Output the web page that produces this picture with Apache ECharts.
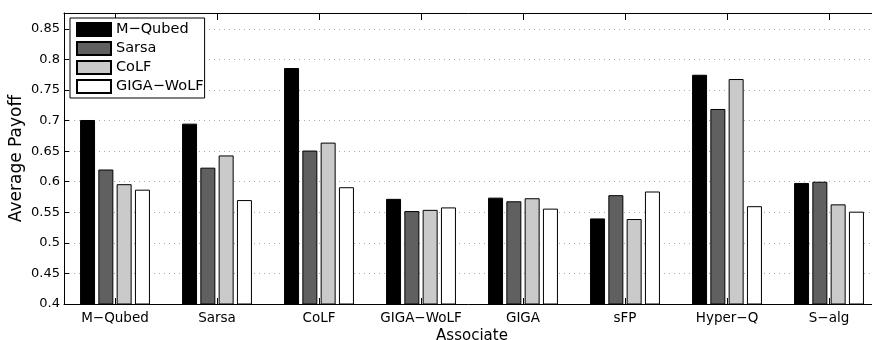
<!DOCTYPE html>
<html>
<head>
<meta charset="utf-8">
<script src="https://cdn.jsdelivr.net/npm/echarts@6/dist/echarts.min.js"></script>
<style>
  html, body { margin: 0; padding: 0; background: #fff; }
  #chart { width: 872px; height: 340px; }
</style>
</head>
<body>
<div id="chart"></div>
<script>
// Average payoff of each learner against each associate
const associates = ['M\u2212Qubed', 'Sarsa', 'CoLF', 'GIGA\u2212WoLF', 'GIGA', 'sFP', 'Hyper\u2212Q', 'S\u2212alg'];
const learners = ['M\u2212Qubed', 'Sarsa', 'CoLF', 'GIGA\u2212WoLF'];
const mQubed   = [0.701, 0.695, 0.786, 0.572, 0.574, 0.540, 0.775, 0.598];
const sarsa    = [0.620, 0.623, 0.651, 0.552, 0.568, 0.578, 0.719, 0.600];
const colf     = [0.596, 0.643, 0.664, 0.554, 0.573, 0.539, 0.768, 0.563];
const gigaWolf = [0.587, 0.570, 0.591, 0.558, 0.556, 0.584, 0.560, 0.551];

const seriesValues = [mQubed, sarsa, colf, gigaWolf];
const fills = ['#000000', '#606060', '#cacaca', '#ffffff'];

const FONT = '"DejaVu Sans", Verdana, sans-serif';

const chart = echarts.init(document.getElementById('chart'), null, { renderer: 'canvas' });

chart.setOption({
  animation: false,
  backgroundColor: '#ffffff',
  // the plot box runs slightly past the right edge of the canvas
  grid: { left: 64, top: 13, right: -8, bottom: 36, outerBoundsMode: 'none', containLabel: false },
  legend: {
    data: learners,
    orient: 'vertical',
    left: 70,
    top: 18,
    padding: [4, 1, 4, 6],
    itemWidth: 34,
    itemHeight: 13,
    itemGap: 4,
    icon: 'rect',
    backgroundColor: '#ffffff',
    borderColor: '#000000',
    borderWidth: 1,
    textStyle: { fontFamily: FONT, fontSize: 14.5, color: '#000', lineHeight: 13 }
  },
  xAxis: [
    {
      type: 'category',
      data: associates,
      position: 'bottom',
      name: 'Associate',
      nameLocation: 'middle',
      nameGap: 25,
      nameMoveOverlap: false,
      nameTextStyle: { fontFamily: FONT, fontSize: 15, color: '#000' },
      axisLine: { lineStyle: { color: '#000', width: 1 } },
      axisTick: { show: true, inside: true, length: 6, alignWithLabel: true, lineStyle: { color: '#000' } },
      axisLabel: { interval: 0, fontFamily: FONT, fontSize: 13.5, color: '#000', margin: 7 },
      splitLine: { show: false }
    },
    {
      type: 'category',
      data: associates,
      position: 'top',
      axisLine: { lineStyle: { color: '#000', width: 1 } },
      axisTick: { show: true, inside: true, length: 7, alignWithLabel: true, interval: 0, lineStyle: { color: '#000' } },
      axisLabel: { show: false },
      splitLine: { show: false }
    }
  ],
  yAxis: {
    type: 'value',
    min: 0.4,
    max: 0.876,
    interval: 0.05,
    name: 'Average Payoff',
    nameLocation: 'middle',
    nameGap: 39,
    nameMoveOverlap: false,
    nameTextStyle: { fontFamily: FONT, fontSize: 17, color: '#000' },
    axisLine: { show: true, lineStyle: { color: '#000', width: 1 } },
    axisTick: { show: true, inside: true, length: 5, lineStyle: { color: '#000' } },
    axisLabel: {
      fontFamily: FONT, fontSize: 13, color: '#000', margin: 4,
      showMaxLabel: false,
      formatter: v => String(Math.round(v * 100) / 100)
    },
    splitLine: { show: true, lineStyle: { color: '#a8a8a8', width: 1, type: [1, 4] } }
  },
  series: learners.map((name, i) => ({
    name,
    type: 'bar',
    data: seriesValues[i],
    barWidth: 15,
    barGap: '22%',
    itemStyle: { color: fills[i], borderColor: '#000', borderWidth: 1 }
  }))
});
</script>
</body>
</html>
